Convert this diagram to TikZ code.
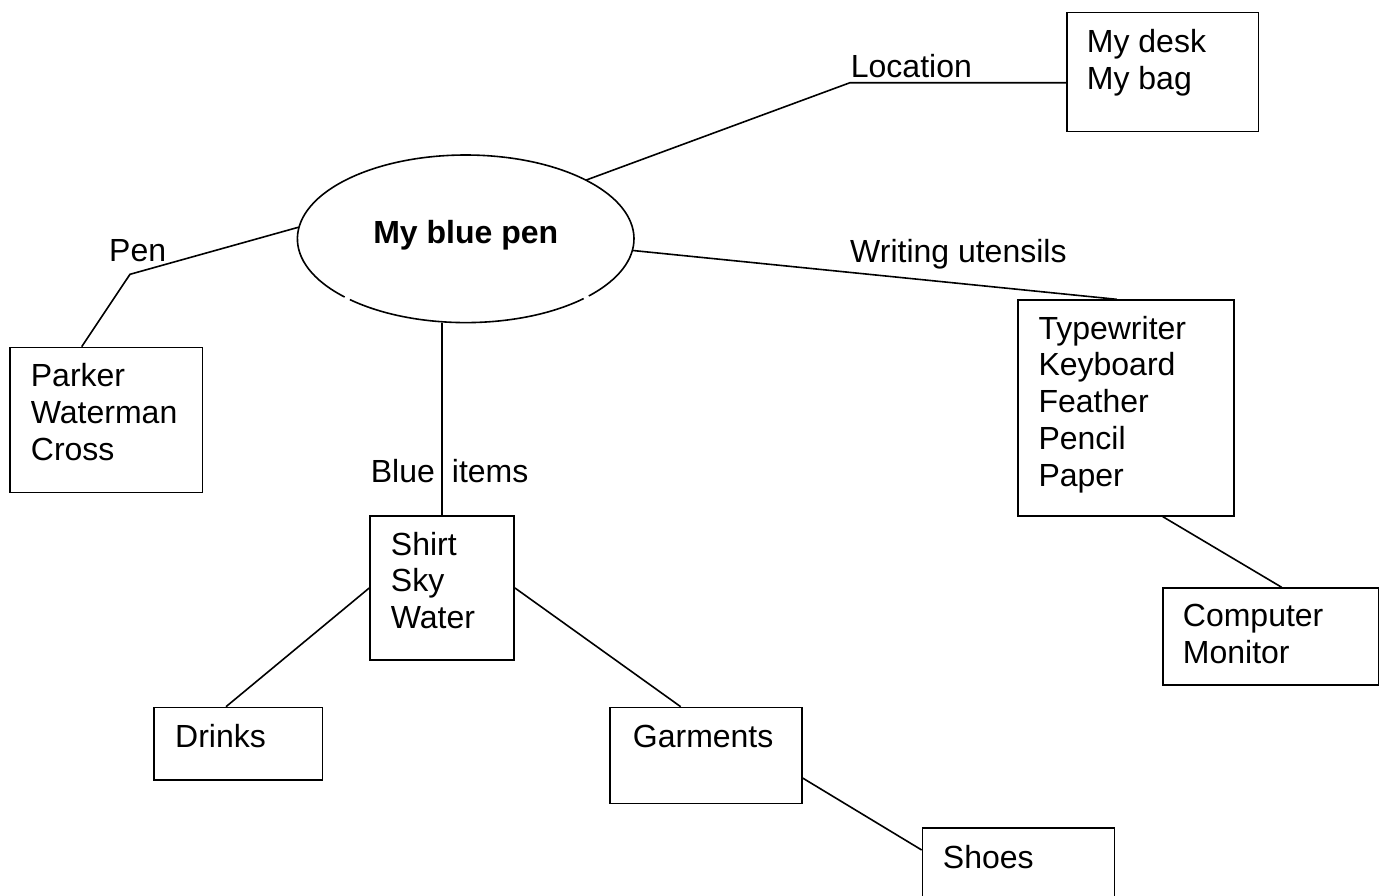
\documentclass[tikz,border=0pt]{standalone}
\usepackage{fontspec}
\setmainfont{Liberation Sans}
\usetikzlibrary{shapes.geometric,calc}
\tikzset{
  box/.style={draw, line width=1.6pt, inner sep=0pt, anchor=north west},
  lbl/.style={inner sep=0pt, anchor=base west, font=\fontsize{32}{36.8}\selectfont},
  conn/.style={line width=1.6pt},
}
\newcommand{\lines}[1]{\begin{tabular}[t]{@{}l@{}}#1\end{tabular}}
\begin{document}
\begin{tikzpicture}[x=1pt,y=-1pt]
\useasboundingbox (0,0) rectangle (1383,895);
\clip (0,0) rectangle (1383,895);
\fill[white] (0,0) rectangle (1383,895);

% central ellipse
\node[ellipse, minimum width=336.6, minimum height=167.6, inner sep=0pt] (pen) at (465.7,238.8) {};
\draw[conn] (pen.center) ++(45.5:168.3 and 83.8) arc[start angle=45.5, end angle=133.5, x radius=168.3, y radius=83.8];
\draw[conn] (pen.center) ++(136:168.3 and 83.8) arc[start angle=136, end angle=403, x radius=168.3, y radius=83.8];
\node[inner sep=0pt, anchor=base, font=\fontsize{32}{36.8}\selectfont\bfseries] (pentext) at (465.7,243) {My blue pen};

% boxes
\node[box, minimum width=192.4, minimum height=145] (parker) at (9.3,346.7) {};
\node[box, minimum width=191.7, minimum height=119] (desk) at (1066,11.7) {};
\node[box, minimum width=215.7, minimum height=215.7] (typew) at (1017.3,299.3) {};
\node[box, minimum width=215.4, minimum height=96.7] (comp) at (1162.3,587.3) {};
\node[box, minimum width=144, minimum height=143.7] (shirt) at (369.3,515.3) {};
\node[box, minimum width=168.4, minimum height=72.6] (drinks) at (153.3,706.7) {};
\node[box, minimum width=191.7, minimum height=96] (garm) at (609.3,706.7) {};
\node[box, minimum width=192, minimum height=90] (shoes) at (921.7,827.3) {};

% box texts
\node[lbl] (parkertxt) at (30.7,386.7) {\lines{Parker\\Waterman\\Cross}};
\node[lbl] (desktxt) at (1086.7,52.3) {\lines{My desk\\My bag}};
\node[lbl] (typewtxt) at (1038.3,339) {\lines{Typewriter\\Keyboard\\Feather\\Pencil\\Paper}};
\node[lbl] (comptxt) at (1182.7,626.7) {\lines{Computer\\Monitor}};
\node[lbl] (shirttxt) at (390.7,555) {\lines{Shirt\\Sky\\Water}};
\node[lbl] (drinkstxt) at (175,747.3) {Drinks};
\node[lbl] (garmtxt) at (632.7,747.3) {Garments};
\node[lbl] (shoestxt) at (942.7,868) {Shoes};

% connector labels
\node[lbl] (penlbl) at (109,261.7) {Pen};
\node[lbl] (loclbl) at (850.7,77.3) {Location};
\node[lbl] (writelbl) at (850,262.3) {Writing utensils};
\node[lbl] (bluelbl) at (370.7,482.7) {Blue};
\node[lbl] (itemslbl) at (451.7,482.7) {items};

% junctions
\coordinate (penj) at (130,274.3);
\coordinate (locj) at (850,82.7);

% connectors
\draw[conn] (pen.176) -- (penj) -- ($(parker.north west)+(72.4,0)$);
\draw[conn] (pen.26.7) -- (locj) -- (locj -| desk.west);
\draw[conn] (pen.-4.4) -- ($(typew.north west)+(99.4,0)$);
\draw[conn] ($(typew.south west)+(145.4,0)$) -- ($(comp.north west)+(119.4,0)$);
\draw[conn] (shirt.north |- pen.south) -- (shirt.north);
\draw[conn] (shirt.west) -- ($(drinks.north west)+(72.7,0)$);
\draw[conn] (shirt.east) -- ($(garm.north west)+(71.4,0)$);
\draw[conn] ($(garm.north east)+(0,71.3)$) -- ($(shoes.north west)+(0,22.7)$);
\end{tikzpicture}
\end{document}
